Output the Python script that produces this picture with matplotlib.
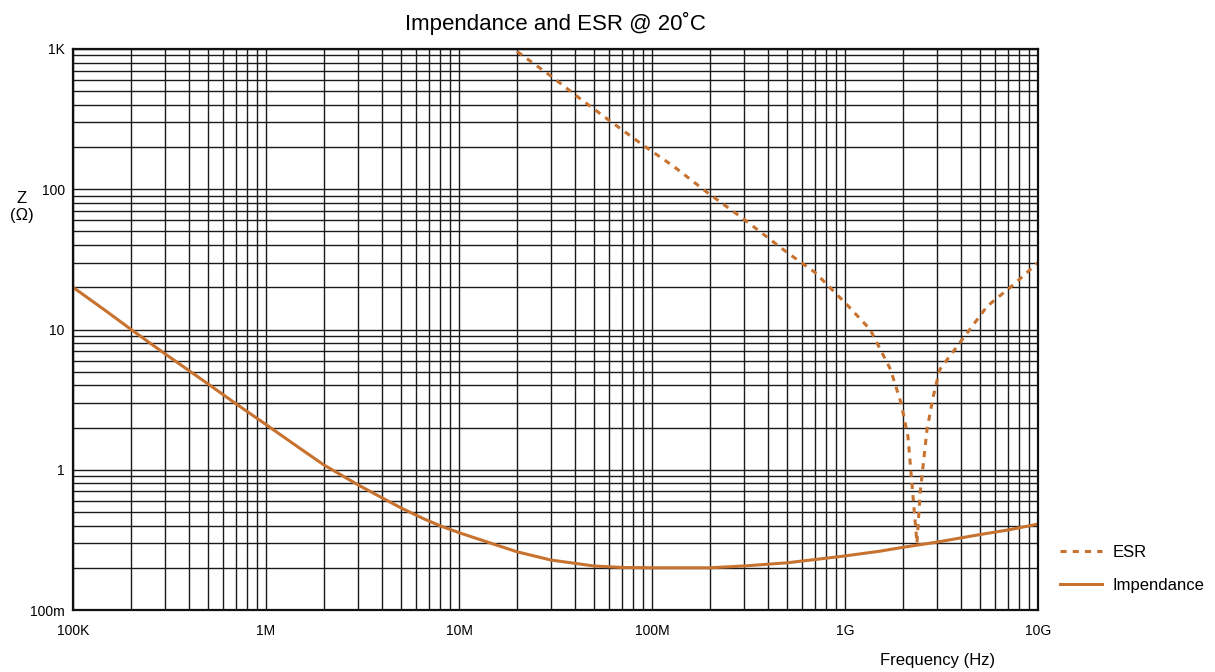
import matplotlib.pyplot as plt
from matplotlib.ticker import FixedLocator, LogLocator, NullFormatter

plt.rcParams["font.family"] = ["Liberation Sans", "DejaVu Sans"]

# readings (Hz, Ohm)
imp_freq = [1e5, 1.5e5, 2e5, 3e5, 5e5, 7e5, 1e6, 1.5e6, 2e6, 3e6, 4e6, 5e6,
            6.5e6, 8e6, 1e7, 1.5e7, 2e7, 3e7, 5e7, 7e7, 1e8, 2e8, 3e8, 5e8, 7e8,
            1e9, 1.5e9, 2e9, 3e9, 5e9, 7e9, 1e10]
imp_z = [20, 13.4, 10, 6.7, 4.1, 2.95, 2.1, 1.42, 1.08, 0.78, 0.63, 0.535,
         0.45, 0.398, 0.356, 0.296, 0.26, 0.227, 0.206, 0.201, 0.2, 0.2, 0.206, 0.217, 0.229,
         0.243, 0.262, 0.28, 0.305, 0.345, 0.372, 0.41]

esr_freq = [2e7, 3e7, 4.2e7, 6e7, 9e7, 1.3e8, 1.93e8, 3e8, 5e8, 7e8, 1.02e9,
            1.35e9, 1.72e9, 1.95e9, 2.12e9, 2.22e9, 2.36e9, 2.45e9, 2.66e9,
            2.86e9, 3.1e9, 3.95e9, 5.44e9, 7.5e9, 1e10]
esr_z = [960, 640, 447, 310, 206, 145, 95, 61, 35.5, 25.5, 15.1,
         10, 5.2, 3.0, 1.72, 0.81, 0.3, 0.68, 1.93,
         3.3, 5.2, 8.1, 14.6, 21, 30]

x_ticks = [1e5, 1e6, 1e7, 1e8, 1e9, 1e10]
x_labels = ["100K", "1M", "10M", "100M", "1G", "10G"]
y_ticks = [0.1, 1, 10, 100, 1000]
y_labels = ["100m", "1", "10", "100", "1K"]

color = "#c8722f"

fig = plt.figure(figsize=(12.15, 6.72), dpi=100)
ax = fig.add_axes([73 / 1215, 62 / 672, 965 / 1215, 561 / 672])

ax.plot(esr_freq, esr_z, color=color, lw=2.2, ls=(0, (2, 2)), label="ESR")
ax.plot(imp_freq, imp_z, color=color, lw=2.2, label="Impendance")

ax.set_xscale("log")
ax.set_yscale("log")
ax.set_xlim(1e5, 1e10)
ax.set_ylim(0.1, 1000)

ax.xaxis.set_major_locator(FixedLocator(x_ticks))
ax.set_xticklabels(x_labels)
ax.yaxis.set_major_locator(FixedLocator(y_ticks))
ax.set_yticklabels(y_labels)
ax.xaxis.set_minor_locator(LogLocator(base=10, subs=range(2, 10), numticks=20))
ax.yaxis.set_minor_locator(LogLocator(base=10, subs=range(2, 10), numticks=20))
ax.xaxis.set_minor_formatter(NullFormatter())
ax.yaxis.set_minor_formatter(NullFormatter())
ax.tick_params(which="both", length=0, labelsize=10)
ax.tick_params(axis="x", pad=10)
ax.tick_params(axis="y", pad=6)

ax.grid(True, which="both", color="#1a1a1a", lw=1.0)
ax.set_axisbelow(True)
for s in ax.spines.values():
    s.set_linewidth(1.6)
    s.set_color("#111111")

ax.set_title("Impendance and ESR @ 20˚C", fontsize=16, pad=14)
fig.text(22 / 1215, 1 - 207 / 672, "Z\n(Ω)", ha="center", va="center", fontsize=12,
         linespacing=1.1)
fig.text(938 / 1215, 1 - 660 / 672, "Frequency (Hz)", ha="center", va="center", fontsize=12)

fig.legend(loc="center left", bbox_to_anchor=(1060 / 1215, 1 - 569 / 672),
           frameon=False, fontsize=12, handlelength=2.5, handletextpad=0.65,
           labelspacing=1.1, borderpad=0, borderaxespad=0)

fig.savefig("out.png", dpi=100)
